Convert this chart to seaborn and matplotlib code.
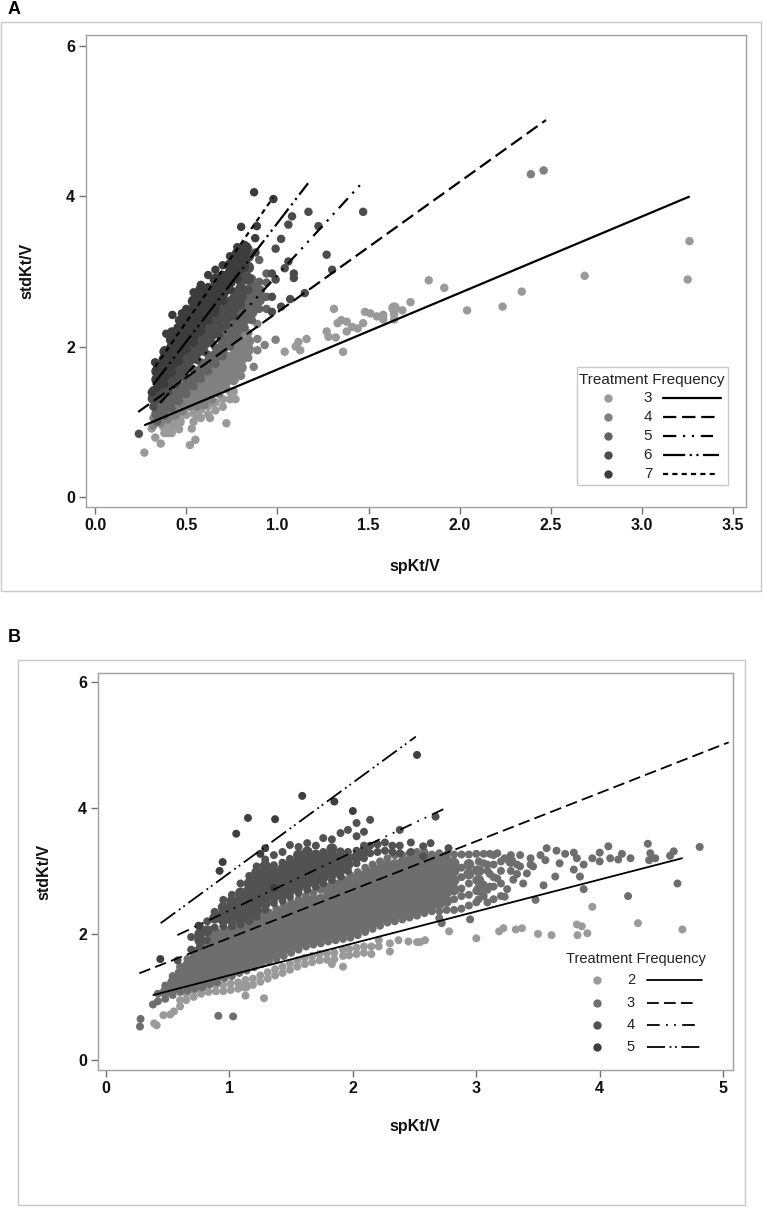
import pandas as pd
import seaborn as sns
import matplotlib.pyplot as plt
from matplotlib.patches import Rectangle
from matplotlib.lines import Line2D

# ---------- panel A, points: x column -> y values ----------
x3a = [0.27, 0.31, 0.33, 0.36, 0.37, 0.38, 0.39, 0.40, 0.41, 0.42, 0.45, 0.46, 0.50, 0.52, 0.53, 0.54, 0.55, 0.56, 0.58,
       0.62, 0.63, 0.64, 0.65, 0.66, 0.70, 0.72, 0.74, 0.76, 0.77,
       1.04, 1.10, 1.125, 1.115, 1.16, 1.27, 1.28, 1.31, 1.32, 1.33, 1.35, 1.36, 1.38, 1.41, 1.44, 1.47, 1.48,
       1.51, 1.545, 1.58, 1.64, 1.685, 1.73, 1.83, 1.915, 2.04, 2.235, 2.34, 2.685, 3.25, 3.26]
y3a = [[0.59], [0.91], [0.79], [0.71], [0.96], [0.85, 0.95, 1.05], [0.93], [0.85], [1.18], [0.85, 0.95, 1.05, 1.15], [0.98],
       [0.9, 1.0, 1.1], [1.09, 1.2], [0.69], [0.91], [1.0, 1.11], [0.76], [1.09], [1.05, 1.16],
       [1.1, 1.21], [1.05], [1.44], [1.25], [1.15, 1.26], [1.2, 1.3], [0.98, 1.51],
       [1.3, 1.4], [1.4], [1.3, 1.57],
       [1.93], [2.0], [1.95], [2.06], [2.1], [2.2], [2.13], [2.5], [2.12], [2.31], [2.35], [1.93], [2.33, 2.2], [2.26],
       [2.24], [2.31], [2.46],
       [2.44], [2.4], [2.42, 2.36], [2.43, 2.51, 2.36], [2.48], [2.59], [2.88], [2.78], [2.48], [2.53], [2.73], [2.94],
       [2.89], [3.4]]

x4a = [0.32, 0.36, 0.40, 0.44, 0.48, 0.52, 0.56, 0.60, 0.64, 0.68, 0.72, 0.76, 0.80, 0.84, 0.87, 0.89, 0.93, 0.99,
       2.39, 2.46]
y4a = [[0.95, 1.05], [0.98, 1.09], [1.03, 1.14], [1.08, 1.19], [1.14, 1.25, 1.36], [1.2, 1.31, 1.42], [1.2, 1.28, 1.39, 1.5],
       [1.22, 1.32, 1.43, 1.54, 1.65], [1.29, 1.4, 1.51, 1.62, 1.73], [1.37, 1.48, 1.59, 1.7, 1.81], [1.44, 1.55, 1.66, 1.77, 1.88],
       [1.54, 1.65, 1.76, 1.87, 1.98], [1.61, 1.72, 1.83, 1.94, 2.05, 2.16], [1.85, 1.96, 2.07, 2.18], [1.73], [1.95, 2.1, 2.3],
       [2.02], [2.09], [4.29], [4.34]]

x5a = [0.34, 0.38, 0.42, 0.46, 0.50, 0.54, 0.58, 0.62, 0.66, 0.70, 0.74, 0.78, 0.82, 0.86, 0.90, 0.94]
y5a = [[1.0, 1.11, 1.22], [1.08, 1.19, 1.3], [1.18, 1.29, 1.4], [1.27, 1.38, 1.49], [1.37, 1.48, 1.59], [1.47, 1.58, 1.69],
       [1.57, 1.68, 1.79], [1.67, 1.78, 1.89], [1.77, 1.88, 1.99], [1.87, 1.98, 2.09, 2.2], [2.0, 2.11, 2.22, 2.33],
       [2.12, 2.23, 2.34, 2.45], [2.25, 2.36, 2.47, 2.58, 2.69], [2.35, 2.46, 2.57, 2.68, 2.79, 2.9],
       [2.5, 2.62, 2.74, 2.86, 3.15], [2.5, 2.66, 2.85, 2.97]]

x6a = [0.24, 0.32, 0.36, 0.40, 0.44, 0.48, 0.52, 0.56, 0.60, 0.64, 0.68, 0.72, 0.76, 0.80, 0.84, 0.88, 0.97, 0.99,
       1.02, 1.04, 1.06, 1.07, 1.08, 1.09, 1.15, 1.17, 1.225, 1.27, 1.30, 1.47]
y6a = [[0.84], [1.2, 1.31, 1.42], [1.3, 1.41, 1.52], [1.4, 1.51, 1.62], [1.5, 1.61, 1.72], [1.6, 1.71, 1.82, 1.93],
       [1.72, 1.83, 1.94, 2.05], [1.82, 1.93, 2.04, 2.15], [1.93, 2.04, 2.15, 2.26], [2.05, 2.16, 2.27, 2.38],
       [2.15, 2.26, 2.37, 2.48], [2.28, 2.39, 2.5, 2.61], [2.4, 2.51, 2.62, 2.73], [2.55, 2.66, 2.77, 2.88, 2.99, 3.1],
       [2.75, 2.9, 3.05, 3.2, 3.3], [3.25], [2.46, 2.66, 2.97], [2.89, 3.3], [2.53, 3.43], [3.04],
       [3.13, 3.62], [2.63], [3.73], [2.91, 2.97], [2.71], [3.79], [3.6], [3.22], [3.02], [3.79]]

x7a = [0.311, 0.329, 0.34, 0.375, 0.38, 0.39, 0.42, 0.424, 0.46, 0.476, 0.50, 0.54, 0.58, 0.62, 0.66,
       0.70, 0.74, 0.78, 0.801, 0.82, 0.832, 0.872, 0.878, 0.887, 0.978]
y7a = [[1.39], [1.79], [1.45, 1.56, 1.67, 1.75], [1.93], [1.5, 1.61, 1.72, 1.83, 1.95], [2.17], [1.65, 1.76, 1.87, 1.98, 2.09, 2.2],
       [2.42], [1.8, 1.91, 2.02, 2.13, 2.24, 2.35], [2.44], [1.95, 2.06, 2.17, 2.28, 2.39, 2.5],
       [2.05, 2.16, 2.27, 2.38, 2.49, 2.6, 2.72], [2.2, 2.31, 2.42, 2.53, 2.64, 2.75, 2.82],
       [2.35, 2.46, 2.57, 2.68, 2.79, 2.95], [2.45, 2.56, 2.67, 2.78, 2.89, 3.02], [2.6, 2.71, 2.82, 2.93, 3.08],
       [2.75, 2.86, 2.97, 3.08, 3.2], [2.9, 3.01, 3.12, 3.23, 3.32], [3.59], [3.05, 3.16, 3.27, 3.35], [3.33],
       [4.05], [3.44], [3.6], [3.96]]

# fitted lines of panel A: start and end of each
freq_a = [3, 4, 5, 6, 7]
line_x_a = [[0.274, 3.257], [0.236, 2.473], [0.356, 1.47], [0.318, 1.168], [0.329, 0.976]]
line_y_a = [[0.957, 3.99], [1.13, 5.01], [1.25, 4.19], [1.49, 4.17], [1.73, 3.98]]

# ---------- panel B ----------
x2b = [0.39, 0.41, 0.465, 0.52, 0.55, 0.60, 0.65, 0.71, 0.77, 0.83, 0.89, 0.95, 1.01, 1.07, 1.13, 1.19, 1.25, 1.28,
       1.31, 1.37, 1.43, 1.49, 1.55, 1.61, 1.67, 1.73, 1.79, 1.83, 1.85, 1.92, 1.97, 2.03, 2.09, 2.15, 2.21, 2.30, 2.37,
       2.45, 2.52, 2.545, 2.585, 2.78, 3.0, 3.185, 3.22, 3.32, 3.37, 3.5, 3.61, 3.815, 3.82, 3.855, 3.9, 3.94, 4.31,
       4.67]
y2b = [[0.58], [0.55], [0.71], [0.72], [0.77], [0.85, 0.95], [0.95, 1.05], [1.0, 1.1], [1.05, 1.15], [1.08, 1.18],
       [1.09, 1.19], [1.09, 1.19], [1.11, 1.21], [1.13, 1.23], [1.02, 1.17, 1.27], [1.19, 1.29], [1.24, 1.34], [0.98],
       [1.29, 1.39], [1.34, 1.44], [1.38, 1.48], [1.43, 1.53], [1.48, 1.58], [1.52, 1.62], [1.55, 1.65], [1.58, 1.68],
       [1.59, 1.69], [1.52], [1.6, 1.7], [1.48, 1.65, 1.75], [1.66, 1.76], [1.68, 1.78], [1.7, 1.8], [1.68, 1.8], [1.8, 1.9],
       [1.72, 1.85], [1.9], [1.88], [1.87], [1.87], [1.9], [2.04], [1.93], [2.04], [2.09], [2.07], [2.09], [2.0], [1.98],
       [2.15], [1.98], [2.12], [2.01], [2.43], [2.17], [2.07]]

x3b = [0.275, 0.28, 0.38, 0.42, 0.48, 0.54, 0.60, 0.66, 0.72, 0.78, 0.84, 0.91, 0.90, 0.96, 1.02, 1.03, 1.08, 1.14,
       1.20, 1.26, 1.32, 1.38, 1.44, 1.50, 1.56, 1.62, 1.68, 1.74, 1.80, 1.86, 1.92, 1.98, 2.04, 2.10, 2.16, 2.22, 2.28,
       2.34, 2.40, 2.46, 2.52, 2.58, 2.64, 2.70, 2.76, 2.82, 2.88, 2.94, 3.00, 3.06, 3.11, 3.17, 3.23, 3.25, 3.30, 3.355,
       3.38, 3.41, 3.46, 3.48, 3.545, 3.56, 3.57, 3.64, 3.65, 3.675, 3.72, 3.79, 3.815, 3.84, 3.87, 3.94, 4.0, 4.07,
       4.085, 4.15, 4.18, 4.23, 4.25, 4.39, 4.4, 4.41, 4.45, 4.57, 4.6, 4.63, 4.81]
y3b = [[0.53], [0.65], [0.88], [0.93, 1.05], [0.97, 1.08, 1.18], [1.03, 1.13, 1.23, 1.33], [1.08, 1.18, 1.28, 1.38, 1.48],
       [1.1, 1.2, 1.3, 1.4, 1.5, 1.6], [1.13, 1.23, 1.33, 1.43, 1.53, 1.63, 1.73],
       [1.15, 1.25, 1.35, 1.45, 1.55, 1.65, 1.75, 1.85], [1.2, 1.3, 1.4, 1.5, 1.6, 1.7, 1.8, 1.9, 2.0], [0.7],
       [1.23, 1.33, 1.43, 1.53, 1.63, 1.73, 1.83, 1.93, 2.03], [1.3, 1.4, 1.5, 1.6, 1.7, 1.8, 1.9, 2.0, 2.07],
       [1.33, 1.43, 1.53, 1.63, 1.73, 1.83, 1.93, 2.03, 2.1], [0.69],
       [1.38, 1.48, 1.58, 1.68, 1.78, 1.88, 1.98, 2.08, 2.14], [1.42, 1.52, 1.62, 1.72, 1.82, 1.92, 2.02, 2.12, 2.18],
       [1.47, 1.57, 1.67, 1.77, 1.87, 1.97, 2.07, 2.17, 2.23], [1.52, 1.62, 1.72, 1.82, 1.92, 2.02, 2.12, 2.22, 2.28],
       [1.56, 1.66, 1.76, 1.86, 1.96, 2.06, 2.16, 2.26, 2.34], [1.6, 1.7, 1.8, 1.9, 2.0, 2.1, 2.2, 2.3, 2.4],
       [1.65, 1.75, 1.85, 1.95, 2.05, 2.15, 2.25, 2.35, 2.46], [1.7, 1.8, 1.9, 2.0, 2.1, 2.2, 2.3, 2.4, 2.5],
       [1.75, 1.85, 1.95, 2.05, 2.15, 2.25, 2.35, 2.45, 2.55], [1.8, 1.9, 2.0, 2.1, 2.2, 2.3, 2.4, 2.5, 2.6],
       [1.83, 1.93, 2.03, 2.13, 2.23, 2.33, 2.43, 2.53, 2.65], [1.85, 1.95, 2.05, 2.15, 2.25, 2.35, 2.45, 2.55, 2.7],
       [1.88, 1.98, 2.08, 2.18, 2.28, 2.38, 2.48, 2.58, 2.68, 2.75], [1.9, 2.0, 2.1, 2.2, 2.3, 2.4, 2.5, 2.6, 2.7, 2.8],
       [1.92, 2.02, 2.12, 2.22, 2.32, 2.42, 2.52, 2.62, 2.72, 2.82, 2.87], [1.94, 2.04, 2.14, 2.24, 2.34, 2.44, 2.54, 2.64, 2.74, 2.84, 2.93],
       [1.98, 2.08, 2.18, 2.28, 2.38, 2.48, 2.58, 2.68, 2.78, 2.88, 2.98], [2.03, 2.13, 2.23, 2.33, 2.43, 2.53, 2.63, 2.73, 2.83, 2.93, 3.05],
       [2.08, 2.18, 2.28, 2.38, 2.48, 2.58, 2.68, 2.78, 2.88, 2.98, 3.1], [2.13, 2.23, 2.33, 2.43, 2.53, 2.63, 2.73, 2.83, 2.93, 3.03, 3.15],
       [2.18, 2.28, 2.38, 2.48, 2.58, 2.68, 2.78, 2.88, 2.98, 3.08, 3.2], [2.2, 2.3, 2.4, 2.5, 2.6, 2.7, 2.8, 2.9, 3.0, 3.1, 3.25],
       [2.23, 2.33, 2.43, 2.53, 2.63, 2.73, 2.83, 2.93, 3.03, 3.13, 3.25], [2.26, 2.36, 2.46, 2.56, 2.66, 2.76, 2.86, 2.96, 3.06, 3.16, 3.28],
       [2.29, 2.39, 2.49, 2.59, 2.69, 2.79, 2.89, 2.99, 3.09, 3.19, 3.3], [2.33, 2.43, 2.53, 2.63, 2.73, 2.83, 2.93, 3.03, 3.13, 3.23, 3.3],
       [2.36, 2.46, 2.56, 2.66, 2.76, 2.86, 2.96, 3.06, 3.16, 3.26], [2.36, 2.48, 2.6, 2.72, 2.84, 2.96, 3.08, 3.2, 3.28],
       [2.38, 2.52, 2.66, 2.8, 2.92, 3.04, 3.16, 3.26], [2.38, 2.55, 2.7, 2.85, 3.0, 3.12, 3.26], [2.4, 2.6, 2.72, 2.9, 3.05, 3.26],
       [2.45, 2.62, 2.8, 2.95, 3.1, 3.26], [2.5, 2.68, 2.85, 3.02, 3.27], [2.6, 2.78, 3.12, 3.27], [2.75, 2.95, 3.27], [2.88, 3.28],
       [2.59, 3.2], [2.71], [2.86], [3.07, 3.25], [2.8], [2.96], [3.07], [2.54], [2.77], [3.17], [3.36], [2.91], [3.32], [3.12],
       [3.27], [3.02, 3.29], [3.2], [2.91], [2.71, 3.1], [3.2], [3.15, 3.29], [3.39], [3.2], [3.18], [3.27], [2.6], [3.2], [3.43],
       [3.17], [3.28], [3.2], [3.24], [3.31], [2.8], [3.38]]

# sparser right end of the frequency 3 cloud
x3b_far = [2.70, 2.72, 2.95, 3.02, 3.09, 3.14, 3.20, 3.28, 3.33, 3.44, 3.52]
y3b_far = [[2.25], [2.17], [2.23], [2.55, 2.7, 2.85, 3.0, 3.15], [2.5, 2.7, 3.0, 3.1], [2.55, 2.75, 2.9, 3.1, 3.25],
           [2.6, 2.8, 3.0, 3.15], [3.0, 3.15, 3.25], [2.95, 3.1], [3.1, 3.2], [3.25]]

x4b = [0.58, 0.69, 0.76, 0.82, 0.88, 0.95, 1.02, 1.09, 1.16, 1.22, 1.29, 1.36, 1.43, 1.49, 1.56, 1.63, 1.70, 1.76, 1.83,
       1.90, 1.96, 2.03, 2.09, 2.14, 2.2, 2.26, 2.32, 2.38, 2.47, 2.57, 2.63, 2.67, 2.775]
y4b = [[1.58], [1.75, 1.95], [1.8, 1.9, 2.0, 2.12], [1.9, 2.05, 2.2], [2.1, 2.25, 2.35], [2.12, 2.22, 2.32, 2.42, 2.54],
       [2.12, 2.22, 2.32, 2.42, 2.52, 2.62], [2.15, 2.25, 2.35, 2.45, 2.55, 2.65, 2.8], [2.2, 2.3, 2.4, 2.5, 2.6, 2.7, 2.8, 2.92],
       [2.27, 2.37, 2.47, 2.57, 2.67, 2.77, 2.87, 2.97, 3.07], [2.38, 2.48, 2.58, 2.68, 2.78, 2.88, 2.98, 3.08, 3.18],
       [2.49, 2.59, 2.69, 2.79, 2.89, 2.99, 3.09, 3.25], [2.53, 2.63, 2.73, 2.83, 2.93, 3.03, 3.13, 3.3], [2.59, 2.69, 2.79, 2.89, 2.99, 3.09, 3.19, 3.41],
       [2.65, 2.75, 2.85, 2.95, 3.05, 3.15, 3.25, 3.38], [2.7, 2.8, 2.9, 3.0, 3.1, 3.2, 3.3, 3.44], [2.75, 2.85, 2.95, 3.05, 3.15, 3.25, 3.4],
       [2.8, 2.9, 3.0, 3.1, 3.2, 3.3, 3.52], [2.85, 2.95, 3.05, 3.15, 3.25, 3.35, 3.5], [2.91, 3.01, 3.11, 3.21, 3.31, 3.6],
       [3.0, 3.1, 3.2, 3.3, 3.65], [3.12, 3.22, 3.32, 3.55, 3.76], [3.2, 3.3, 3.4, 3.62], [3.28, 3.4, 3.81], [3.3, 3.42], [3.32, 3.45],
       [3.3, 3.4], [3.28, 3.4, 3.65], [3.3, 3.45], [3.23, 3.39], [3.44], [3.86], [3.36]]

x5b = [0.44, 0.75, 0.92, 0.945, 1.055, 1.15, 1.25, 1.29, 1.36, 1.37, 1.59, 1.85, 2.0, 2.52]
y5b = [[1.6], [2.13], [3.0], [3.14], [3.59], [3.84], [3.27], [3.36], [2.73], [3.82], [4.19], [4.10], [3.95], [4.84]]

freq_b = [2, 3, 4, 5]
line_x_b = [[0.383, 4.667], [0.27, 5.045], [0.578, 2.767], [0.443, 2.51]]
line_y_b = [[1.03, 3.2], [1.375, 5.04], [1.98, 4.01], [2.17, 5.13]]


def points(freq, xs, ys):
    # middle points of a tight column sit inside the solid cloud, they get a bigger dot so no holes show
    rows = []
    for x, col in zip(xs, ys):
        for i, y in enumerate(col):
            inner = 0 < i < len(col) - 1 and col[i] - col[i - 1] < 0.16 and col[i + 1] - col[i] < 0.16
            rows.append((freq, x, y, "core" if inner else "edge"))
    return pd.DataFrame(rows, columns=["freq", "spKt/V", "stdKt/V", "part"])


def lines(freqs, line_x, line_y):
    rows = [(f, x, y) for f, xs, ys in zip(freqs, line_x, line_y) for x, y in zip(xs, ys)]
    return pd.DataFrame(rows, columns=["freq", "spKt/V", "stdKt/V"])


df_a = pd.concat([points(3, x3a, y3a), points(4, x4a, y4a), points(5, x5a, y5a), points(6, x6a, y6a), points(7, x7a, y7a)])
df_b = pd.concat([points(2, x2b, y2b), points(3, x3b, y3b), points(3, x3b_far, y3b_far), points(4, x4b, y4b), points(5, x5b, y5b)])

colors_a = {3: "#9a9a9a", 4: "#808080", 5: "#636363", 6: "#4c4c4c", 7: "#3c3c3c"}
colors_b = {2: "#9a9a9a", 3: "#6e6e6e", 4: "#525252", 5: "#3e3e3e"}
dashes_a = {3: "", 4: (6, 2.6), 5: (6, 3, 1, 3, 1, 3), 6: (10, 2, 1, 2, 1, 2), 7: (2.3, 1.9)}
dashes_b = {2: "", 3: (6.5, 2.9), 4: (7, 3.5, 1, 3.5, 1, 3.5), 5: (10, 2.5, 1, 2, 1, 2.5)}
# right end of the legend samples, they stop at different lengths
sample_end_a = {3: 721, 4: 716, 5: 713, 6: 719, 7: 716}
sample_end_b = {2: 702, 3: 696, 4: 695, 5: 700}

sns.set_theme(style="ticks")
plt.rcParams["font.family"] = ["Liberation Sans", "DejaVu Sans"]

W, H = 763, 1208
fig = plt.figure(figsize=(W / 100, H / 100), dpi=100)


def fx(px):
    return px / W


def fy(py):
    return 1 - py / H


def panel(box, xlim, ylim, xticks, xfmt, df, colors, lns, dashes, size, lw, xlabel_y, ylabel_x):
    left, top, right, bottom = box
    ax = fig.add_axes([fx(left), fy(bottom), (right - left) / W, (bottom - top) / H])
    sns.scatterplot(data=df, x="spKt/V", y="stdKt/V", hue="freq", palette=colors, size="part",
                    sizes={"edge": size, "core": size * 1.9}, linewidth=0, alpha=1, legend=False, ax=ax, zorder=2)
    sns.lineplot(data=lns, x="spKt/V", y="stdKt/V", style="freq", dashes=dashes, color="black", linewidth=lw,
                 estimator=None, legend=False, ax=ax, zorder=3)
    ax.set_xlim(*xlim)
    ax.set_ylim(*ylim)
    ax.set_xticks(xticks)
    ax.set_xticklabels([xfmt % t for t in xticks])
    ax.set_yticks([0, 2, 4, 6])
    for s in ax.spines.values():
        s.set_color("#a0a0a0")
        s.set_linewidth(1)
    ax.tick_params(length=5, width=1, color="#707070", labelsize=11.5, labelcolor="#111111", pad=3)
    for t in ax.get_xticklabels() + ax.get_yticklabels():
        t.set_fontweight("semibold")
    ax.set_xlabel("")
    ax.set_ylabel("")
    fig.text(fx(415), fy(xlabel_y), "spKt/V", fontsize=11.5, fontweight="bold",
             ha="center", va="center", color="#111111")
    fig.text(fx(ylabel_x), fy((top + bottom) / 2), "stdKt/V", fontsize=11.5, fontweight="bold", rotation=90,
             ha="center", va="center", color="#111111")
    return ax


def legend_block(title_x, title_y, rows_y, mark_x, num_x, line_x, ends, freqs, colors, dashes, lw, fs):
    fig.text(fx(title_x), fy(title_y), "Treatment Frequency", fontsize=fs, ha="center", va="center", color="#222222")
    for f, y in zip(freqs, rows_y):
        fig.add_artist(Line2D([fx(mark_x)], [fy(y)], marker="o", markersize=6, color=colors[f], markeredgewidth=0,
                              linestyle="none"))
        fig.text(fx(num_x), fy(y), str(f), fontsize=fs, ha="center", va="center", color="#222222")
        ln = Line2D([fx(line_x), fx(ends[f])], [fy(y), fy(y)], color="black", linewidth=lw)
        if dashes[f]:
            # matplotlib scales these by the line width itself
            ln.set_dashes(dashes[f])
        fig.add_artist(ln)


fig.add_artist(Rectangle((fx(1.5), fy(591)), 759 / W, 569 / H, fill=False, edgecolor="#c8c8c8", linewidth=1))
fig.add_artist(Rectangle((fx(18), fy(1205)), 727 / W, 545 / H, fill=False, edgecolor="#c8c8c8", linewidth=1))
fig.text(fx(8), fy(9), "A", fontsize=13, fontweight="bold", ha="left", va="center", color="black")
fig.text(fx(8), fy(638), "B", fontsize=13, fontweight="bold", ha="left", va="center", color="black")

panel((86, 35, 746, 507), (-0.05, 3.57), (-0.133, 6.14), [0, 0.5, 1, 1.5, 2, 2.5, 3, 3.5], "%.1f", df_a, colors_a,
      lines(freq_a, line_x_a, line_y_a), dashes_a, 37, 1.6, 566, 27)
panel((98, 673, 733, 1070), (-0.065, 5.08), (-0.16, 6.14), [0, 1, 2, 3, 4, 5], "%d", df_b, colors_b,
      lines(freq_b, line_x_b, line_y_b), dashes_b, 33, 1.3, 1126, 44)

fig.add_artist(Rectangle((fx(577), fy(485)), 151 / W, 118 / H, fill=False, edgecolor="#c8c8c8", linewidth=1))
legend_block(652, 380, [398, 417, 436, 455, 474], 608, 648, 663, sample_end_a, freq_a, colors_a, dashes_a, 1.6, 11)
legend_block(636, 959, [980, 1003, 1025, 1047], 597, 631, 647, sample_end_b, freq_b, colors_b, dashes_b, 1.3, 10.5)

plt.savefig("out.png", dpi=100)
